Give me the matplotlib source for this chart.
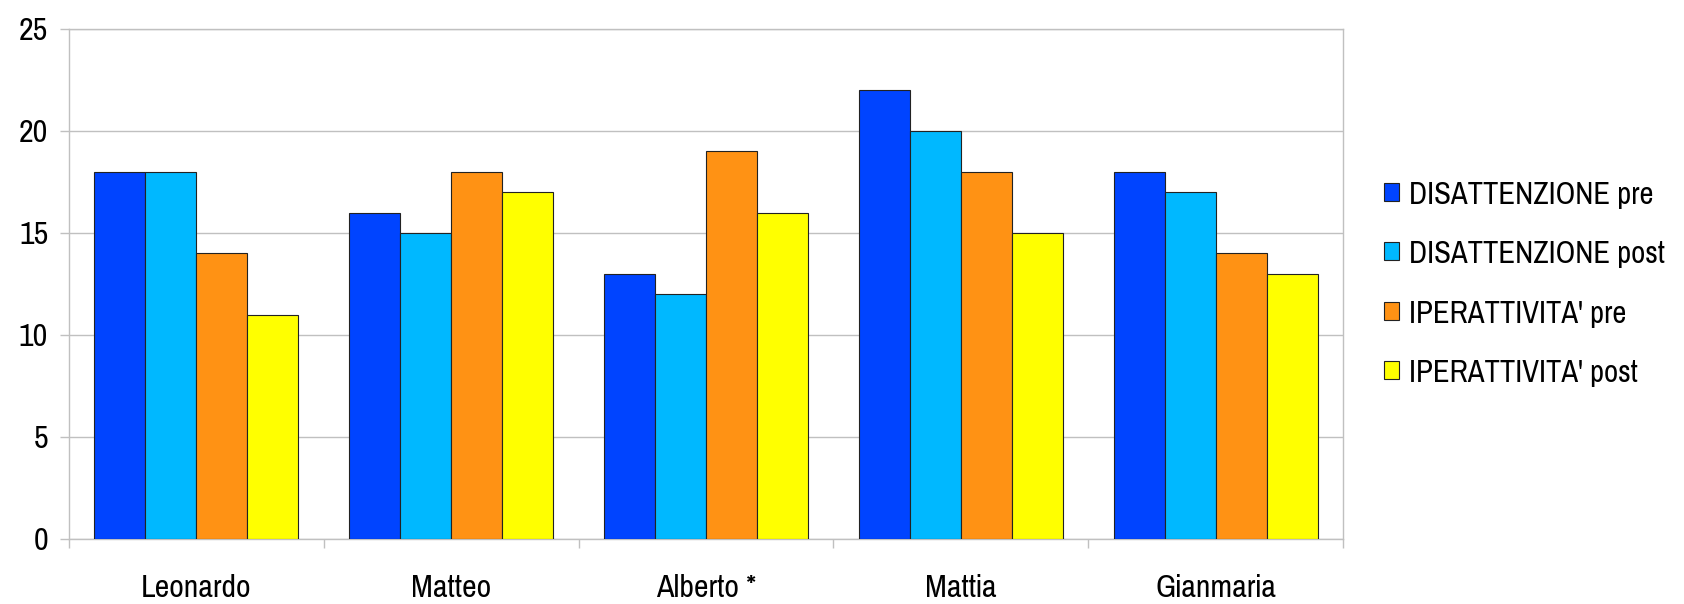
import numpy as np
import matplotlib
matplotlib.use('Agg')
import matplotlib.pyplot as plt
from matplotlib import font_manager

# data
names = ["Leonardo", "Matteo", "Alberto *", "Mattia", "Gianmaria"]
series = ["DISATTENZIONE pre", "DISATTENZIONE post", "IPERATTIVITA' pre", "IPERATTIVITA' post"]
dis_pre = [18, 16, 13, 22, 18]
dis_post = [18, 15, 12, 20, 17]
ipe_pre = [14, 18, 19, 18, 14]
ipe_post = [11, 17, 16, 15, 13]
colors = ["#0044ff", "#00b8ff", "#ff9214", "#ffff00"]

# the original uses an Arial Narrow look; pick a narrow face if one is there
avail = {f.name for f in font_manager.fontManager.ttflist}
narrow = ["Liberation Sans Narrow", "Arial Narrow", "Pragati Narrow", "Archivo Narrow",
          "PT Sans Narrow", "Roboto Condensed", "Open Sans Condensed"]
fam = next((f for f in narrow if f in avail), None)
if fam:
    tick_fs, leg_fs = 25, 24
else:
    fam = "Liberation Sans"
    tick_fs, leg_fs = 22, 17
plt.rcParams['font.family'] = [fam, 'DejaVu Sans']

fig = plt.figure(figsize=(16.84, 6.04), dpi=100)
ax = fig.add_axes([69/1684, 1 - 539/604, (1343-69)/1684, (539-29)/604])

ind = np.arange(len(names))
width = 0.2
allvals = [dis_pre, dis_post, ipe_pre, ipe_post]
handles = []
for i, vals in enumerate(allvals):
    b = ax.bar(ind + (i - 1.5) * width, vals, width, color=colors[i],
               edgecolor="#222222", linewidth=0.8, label=series[i], zorder=3)
    handles.append(b)

ax.set_xlim(-0.5, len(names) - 0.5)
ax.set_ylim(0, 25)
ax.set_yticks(np.arange(0, 26, 5))
ax.yaxis.grid(True, color="#c0c0c0", linewidth=1.0, zorder=0)
for s in ax.spines.values():
    s.set_color("#c0c0c0")
    s.set_linewidth(1.0)

# category labels sit between the boundary ticks
ax.set_xticks(np.arange(-0.5, len(names)))
ax.set_xticklabels([])
ax.set_xticks(ind, minor=True)
ax.set_xticklabels(names, minor=True, fontsize=tick_fs)
ax.tick_params(axis='x', which='minor', length=0, pad=25)
ax.tick_params(axis='x', which='major', length=6.5, color="#c0c0c0", width=1.0)
ax.tick_params(axis='y', length=6.5, color="#c0c0c0", width=1.0, labelsize=tick_fs, pad=8.5)

fig.legend(handles, series, loc="center left", bbox_to_anchor=(1367/1684, 1 - 284/604),
           frameon=False, fontsize=leg_fs, borderpad=0, handlelength=0.45, handleheight=0.45,
           handletextpad=0.3, labelspacing=0.94)

plt.savefig("out.png", dpi=100)
print("Graph created.")
